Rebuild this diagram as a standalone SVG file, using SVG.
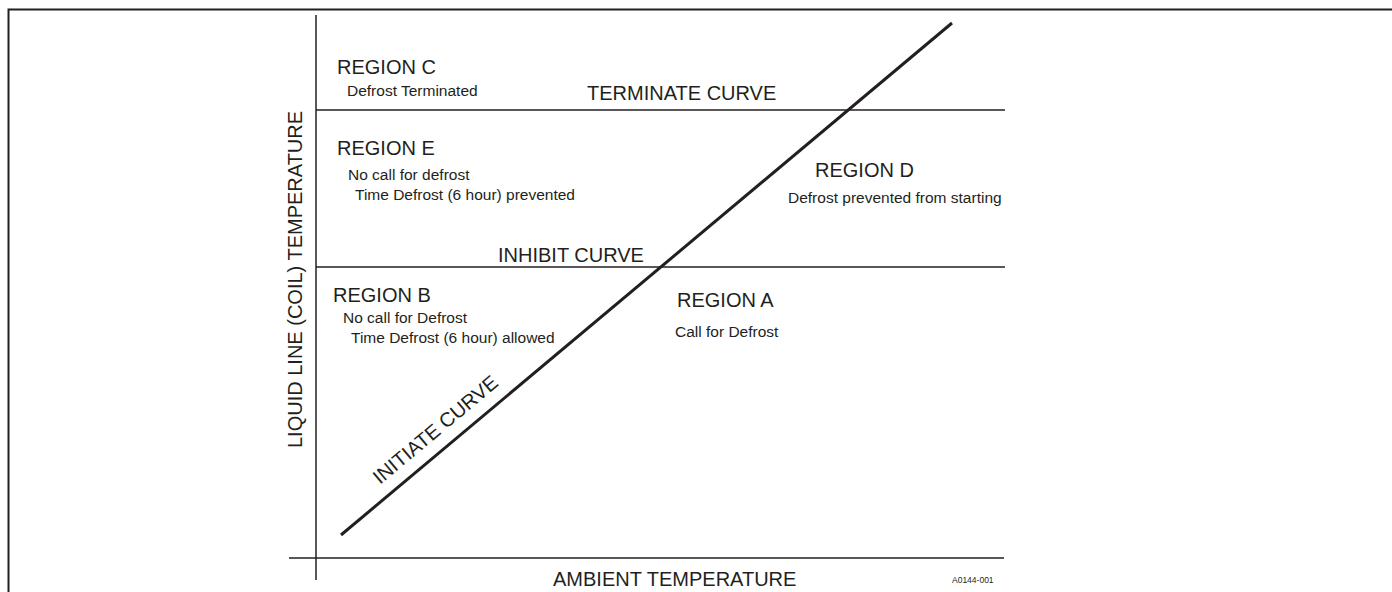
<svg xmlns="http://www.w3.org/2000/svg" width="1392" height="592" viewBox="0 0 1392 592">
<style>
text{font-family:"Liberation Sans",Arial,sans-serif;fill:#231f20}
.big{font-size:20px}
.small{font-size:15.5px}
.tiny{font-size:8.5px}
.ln{stroke:#231f20;fill:none}
</style>
<rect width="1392" height="592" fill="#fff"/>
<path class="ln" d="M8.5,592 V9.5 H1392" stroke-width="2"/>
<g id="axes">
<line class="ln" x1="316" y1="15" x2="316" y2="580" stroke-width="1.5"/>
<line class="ln" x1="289" y1="558" x2="1004" y2="558" stroke-width="1.5"/>
<text class="big" transform="translate(302,448) rotate(-90)">LIQUID LINE (COIL) TEMPERATURE</text>
<text class="big" x="553" y="586">AMBIENT TEMPERATURE</text>
<text class="tiny" x="952" y="583">A0144-001</text>
</g>
<g id="connectors">
<g id="terminate-curve">
<line class="ln" x1="316" y1="110" x2="1005" y2="110" stroke-width="1.5"/>
<text class="big" x="587" y="100">TERMINATE CURVE</text>
</g>
<g id="inhibit-curve">
<line class="ln" x1="316" y1="267" x2="1005" y2="267" stroke-width="1.5"/>
<text class="big" x="498" y="262">INHIBIT CURVE</text>
</g>
<g id="initiate-curve">
<line class="ln" x1="341" y1="535" x2="952" y2="23" stroke-width="3"/>
<text class="big" transform="translate(380,485) rotate(-40)">INITIATE CURVE</text>
</g>
</g>
<g id="region-c">
<text class="big" x="337" y="74">REGION C</text>
<text class="small" x="347" y="96">Defrost Terminated</text>
</g>
<g id="region-e">
<text class="big" x="337" y="155">REGION E</text>
<text class="small" x="348" y="180">No call for defrost</text>
<text class="small" x="355" y="200">Time Defrost (6 hour) prevented</text>
</g>
<g id="region-d">
<text class="big" x="815" y="177">REGION D</text>
<text class="small" x="788" y="203">Defrost prevented from starting</text>
</g>
<g id="region-b">
<text class="big" x="333" y="302">REGION B</text>
<text class="small" x="343" y="323">No call for Defrost</text>
<text class="small" x="351" y="343">Time Defrost (6 hour) allowed</text>
</g>
<g id="region-a">
<text class="big" x="677" y="307">REGION A</text>
<text class="small" x="675" y="337">Call for Defrost</text>
</g>
</svg>
